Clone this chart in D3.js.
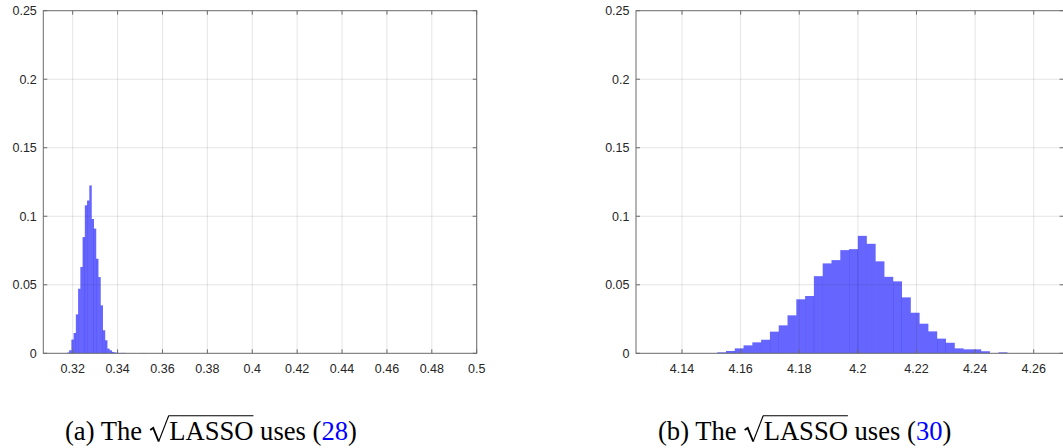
<!DOCTYPE html>
<html>
<head>
<meta charset="utf-8">
<script src="https://cdn.jsdelivr.net/npm/d3@7"></script>
<style>
  body { margin: 0; background: #fff; }
  svg { display: block; }
  .tick-label { font-family: "Liberation Sans", Arial, sans-serif; font-size: 12.5px; fill: #262626; }
  .caption { font-family: "Liberation Serif", "Times New Roman", serif; font-size: 26.6px; fill: #000; }
</style>
</head>
<body>
<div id="chart"></div>
<script>
// y axis (probability), shared by both panels
const yTicks = [0, 0.05, 0.1, 0.15, 0.2, 0.25];

// panel (a): bins of width 0.001 starting at 0.3174
const leftTicks = [0.32, 0.34, 0.36, 0.38, 0.4, 0.42, 0.44, 0.46, 0.48, 0.5];
const leftBinStart = 0.3174;
const leftBinWidth = 0.001;
const leftProb = [0.0005, 0.0022, 0.010, 0.0148, 0.0284, 0.0471, 0.063, 0.0848, 0.108, 0.1115,
    0.1225, 0.098, 0.091, 0.069, 0.0556, 0.035, 0.0168, 0.0095, 0.0034, 0.0022,
    0.001, 0.0006, 0.0004, 0.0002, 0.0003, 0.0003, 0, 0, 0, 0,
    0, 0, 0, 0.0002, 0.0002];

// panel (b): bins of width 0.003 starting at 4.152
const rightTicks = [4.14, 4.16, 4.18, 4.2, 4.22, 4.24, 4.26];
const rightBinStart = 4.152;
const rightBinWidth = 0.003;
const rightProb = [0.0007, 0.0017, 0.0036, 0.0058, 0.008, 0.0099, 0.0158, 0.0204, 0.0277, 0.0394,
    0.0418, 0.0563, 0.0656, 0.068, 0.0753, 0.076, 0.0857, 0.0799, 0.0671, 0.0558,
    0.0525, 0.0408, 0.0296, 0.0216, 0.016, 0.0107, 0.0077, 0.0036, 0.0029, 0.0029,
    0.0015, 0, 0.0007];

const W = 1063, H = 448;
const plotTop = 10.7, plotBottom = 353.3;
const axisColor = '#6b6b6b';
const tickLen = 4;

const svg = d3.select('#chart').append('svg')
    .attr('width', W)
    .attr('height', H);

const panels = [
    { x0: 43.3, x1: 476.7, domain: [0.3069, 0.5], ticks: leftTicks,
      start: leftBinStart, width: leftBinWidth, prob: leftProb,
      label: 'a', ref: '28', capX: 65 },
    { x0: 636, x1: 1063.6, domain: [4.1243, 4.2702], ticks: rightTicks,
      start: rightBinStart, width: rightBinWidth, prob: rightProb,
      label: 'b', ref: '30', capX: 658 }
];

const fmt = v => String(+v.toFixed(2));

panels.forEach(p => {
    const x = d3.scaleLinear().domain(p.domain).range([p.x0, p.x1]);
    const y = d3.scaleLinear().domain([0, 0.25]).range([plotBottom, plotTop]);
    const g = svg.append('g');

    // bars
    const bins = p.prob.map((v, i) => ({ a: p.start + i * p.width, b: p.start + (i + 1) * p.width, v: v }))
        .filter(d => d.v > 0);
    g.selectAll('.bar').data(bins).enter().append('rect')
        .attr('class', 'bar')
        .attr('x', d => x(d.a))
        .attr('width', d => x(d.b) - x(d.a) + 0.2)
        .attr('y', d => y(d.v))
        .attr('height', d => y(0) - y(d.v))
        .attr('fill', '#0000ff')
        .attr('fill-opacity', 0.6);

    // grid (drawn on top, like matlab)
    g.selectAll('.vgrid').data(p.ticks).enter().append('line')
        .attr('x1', d => x(d)).attr('x2', d => x(d))
        .attr('y1', plotTop).attr('y2', plotBottom)
        .attr('stroke', '#262626').attr('stroke-opacity', 0.12);
    g.selectAll('.hgrid').data(yTicks.slice(1, -1)).enter().append('line')
        .attr('x1', p.x0).attr('x2', p.x1)
        .attr('y1', d => y(d)).attr('y2', d => y(d))
        .attr('stroke', '#262626').attr('stroke-opacity', 0.12);

    // box
    g.append('rect')
        .attr('x', p.x0).attr('y', plotTop)
        .attr('width', p.x1 - p.x0).attr('height', plotBottom - plotTop)
        .attr('fill', 'none').attr('stroke', axisColor);

    // ticks pointing inward
    p.ticks.forEach(t => {
        g.append('line').attr('x1', x(t)).attr('x2', x(t)).attr('y1', plotBottom).attr('y2', plotBottom - tickLen).attr('stroke', axisColor);
        g.append('line').attr('x1', x(t)).attr('x2', x(t)).attr('y1', plotTop).attr('y2', plotTop + tickLen).attr('stroke', axisColor);
    });
    yTicks.forEach(t => {
        g.append('line').attr('x1', p.x0).attr('x2', p.x0 + tickLen).attr('y1', y(t)).attr('y2', y(t)).attr('stroke', axisColor);
        g.append('line').attr('x1', p.x1).attr('x2', p.x1 - tickLen).attr('y1', y(t)).attr('y2', y(t)).attr('stroke', axisColor);
    });

    // tick labels
    g.selectAll('.xl').data(p.ticks).enter().append('text')
        .attr('class', 'tick-label')
        .attr('x', d => x(d)).attr('y', 372.5)
        .attr('text-anchor', 'middle')
        .text(fmt);
    g.selectAll('.yl').data(yTicks).enter().append('text')
        .attr('class', 'tick-label')
        .attr('x', p.x0 - 6.5).attr('y', d => y(d))
        .attr('dy', '0.35em')
        .attr('text-anchor', 'end')
        .text(fmt);

    // caption: (a) The sqrt(LASSO) uses (28)
    const base = 440, barY = 415.8;
    let cx = p.capX;
    const piece = (t, fill) => {
        const el = svg.append('text')
            .attr('class', 'caption')
            .attr('x', cx).attr('y', base)
            .style('fill', fill || '#000')
            .text(t);
        const w = el.node().getComputedTextLength();
        cx += w;
        return w;
    };
    piece('(' + p.label + ') The\u00a0');
    // radical sign drawn by hand
    const r0 = cx + 1.5;
    svg.append('path')
        .attr('d', `M${r0},${base - 10} L${r0 + 3},${base - 12} L${r0 + 8.5},${base + 1.5}`)
        .attr('fill', 'none').attr('stroke', '#000').attr('stroke-width', 1.9)
        .attr('stroke-linejoin', 'miter');
    svg.append('path')
        .attr('d', `M${r0 + 8.5},${base + 1.5} L${r0 + 18.5},${barY}`)
        .attr('fill', 'none').attr('stroke', '#000').attr('stroke-width', 1.1);
    cx += 20.5;
    const lx = cx;
    const lw = piece('LASSO');
    svg.append('line')
        .attr('x1', r0 + 18.3).attr('x2', lx + lw)
        .attr('y1', barY).attr('y2', barY)
        .attr('stroke', '#000').attr('stroke-width', 1.1);
    piece('\u00a0uses (');
    piece(p.ref, '#0000ff');
    piece(')');
});
</script>
</body>
</html>
